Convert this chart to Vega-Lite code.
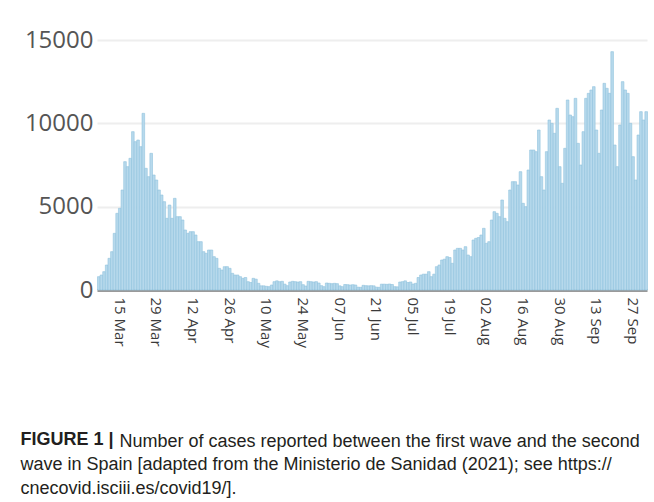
{
  "$schema": "https://vega.github.io/schema/vega-lite/v6.json",
  "autosize": {"type": "none"},
  "padding": {"left": 97, "top": 40, "right": 7, "bottom": 212},
  "width": 550,
  "height": 250,
  "background": "white",
  "config": {
    "view": {"stroke": null},
    "axis": {"labelFont": "Open Sans", "titleFont": "Open Sans"}
  },
  "title": {
    "text": "FIGURE 1 |",
    "subtitle": [
      "wave in Spain [adapted from the Ministerio de Sanidad (2021); see https://",
      "cnecovid.isciii.es/covid19/]."
    ],
    "orient": "bottom",
    "anchor": "start",
    "frame": "bounds",
    "offset": -19,
    "dx": -4,
    "font": "Liberation Sans",
    "fontSize": 18,
    "fontWeight": "bold",
    "color": "#231f20",
    "lineHeight": 24.5,
    "subtitleFont": "Liberation Sans",
    "subtitleFontSize": 18,
    "subtitleFontWeight": "normal",
    "subtitleColor": "#231f20",
    "subtitleLineHeight": 24.5,
    "subtitlePadding": 6.5
  },
  "data": {
    "values": [
      {"date": "2020-03-07", "cases": 800},
      {"date": "2020-03-08", "cases": 900},
      {"date": "2020-03-09", "cases": 1100},
      {"date": "2020-03-10", "cases": 1500},
      {"date": "2020-03-11", "cases": 1900},
      {"date": "2020-03-12", "cases": 2300},
      {"date": "2020-03-13", "cases": 3400},
      {"date": "2020-03-14", "cases": 4600},
      {"date": "2020-03-15", "cases": 4900},
      {"date": "2020-03-16", "cases": 6000},
      {"date": "2020-03-17", "cases": 7700},
      {"date": "2020-03-18", "cases": 7400},
      {"date": "2020-03-19", "cases": 7900},
      {"date": "2020-03-20", "cases": 9500},
      {"date": "2020-03-21", "cases": 8900},
      {"date": "2020-03-22", "cases": 9000},
      {"date": "2020-03-23", "cases": 8600},
      {"date": "2020-03-24", "cases": 10600},
      {"date": "2020-03-25", "cases": 7300},
      {"date": "2020-03-26", "cases": 6800},
      {"date": "2020-03-27", "cases": 8200},
      {"date": "2020-03-28", "cases": 6900},
      {"date": "2020-03-29", "cases": 6600},
      {"date": "2020-03-30", "cases": 6000},
      {"date": "2020-03-31", "cases": 5700},
      {"date": "2020-04-01", "cases": 5300},
      {"date": "2020-04-02", "cases": 4300},
      {"date": "2020-04-03", "cases": 5100},
      {"date": "2020-04-04", "cases": 4300},
      {"date": "2020-04-05", "cases": 5500},
      {"date": "2020-04-06", "cases": 4400},
      {"date": "2020-04-07", "cases": 4400},
      {"date": "2020-04-08", "cases": 4200},
      {"date": "2020-04-09", "cases": 3600},
      {"date": "2020-04-10", "cases": 3400},
      {"date": "2020-04-11", "cases": 3500},
      {"date": "2020-04-12", "cases": 3500},
      {"date": "2020-04-13", "cases": 3300},
      {"date": "2020-04-14", "cases": 2900},
      {"date": "2020-04-15", "cases": 2900},
      {"date": "2020-04-16", "cases": 2300},
      {"date": "2020-04-17", "cases": 2200},
      {"date": "2020-04-18", "cases": 2400},
      {"date": "2020-04-19", "cases": 2400},
      {"date": "2020-04-20", "cases": 2000},
      {"date": "2020-04-21", "cases": 1900},
      {"date": "2020-04-22", "cases": 1300},
      {"date": "2020-04-23", "cases": 1200},
      {"date": "2020-04-24", "cases": 1400},
      {"date": "2020-04-25", "cases": 1400},
      {"date": "2020-04-26", "cases": 1300},
      {"date": "2020-04-27", "cases": 1000},
      {"date": "2020-04-28", "cases": 900},
      {"date": "2020-04-29", "cases": 900},
      {"date": "2020-04-30", "cases": 800},
      {"date": "2020-05-01", "cases": 700},
      {"date": "2020-05-02", "cases": 750},
      {"date": "2020-05-03", "cases": 500},
      {"date": "2020-05-04", "cases": 450},
      {"date": "2020-05-05", "cases": 700},
      {"date": "2020-05-06", "cases": 650},
      {"date": "2020-05-07", "cases": 400},
      {"date": "2020-05-08", "cases": 250},
      {"date": "2020-05-09", "cases": 250},
      {"date": "2020-05-10", "cases": 220},
      {"date": "2020-05-11", "cases": 200},
      {"date": "2020-05-12", "cases": 300},
      {"date": "2020-05-13", "cases": 500},
      {"date": "2020-05-14", "cases": 550},
      {"date": "2020-05-15", "cases": 500},
      {"date": "2020-05-16", "cases": 520},
      {"date": "2020-05-17", "cases": 350},
      {"date": "2020-05-18", "cases": 260},
      {"date": "2020-05-19", "cases": 480},
      {"date": "2020-05-20", "cases": 520},
      {"date": "2020-05-21", "cases": 500},
      {"date": "2020-05-22", "cases": 480},
      {"date": "2020-05-23", "cases": 500},
      {"date": "2020-05-24", "cases": 320},
      {"date": "2020-05-25", "cases": 240},
      {"date": "2020-05-26", "cases": 520},
      {"date": "2020-05-27", "cases": 500},
      {"date": "2020-05-28", "cases": 480},
      {"date": "2020-05-29", "cases": 500},
      {"date": "2020-05-30", "cases": 420},
      {"date": "2020-05-31", "cases": 260},
      {"date": "2020-06-01", "cases": 200},
      {"date": "2020-06-02", "cases": 420},
      {"date": "2020-06-03", "cases": 400},
      {"date": "2020-06-04", "cases": 380},
      {"date": "2020-06-05", "cases": 400},
      {"date": "2020-06-06", "cases": 380},
      {"date": "2020-06-07", "cases": 250},
      {"date": "2020-06-08", "cases": 200},
      {"date": "2020-06-09", "cases": 330},
      {"date": "2020-06-10", "cases": 320},
      {"date": "2020-06-11", "cases": 300},
      {"date": "2020-06-12", "cases": 320},
      {"date": "2020-06-13", "cases": 300},
      {"date": "2020-06-14", "cases": 170},
      {"date": "2020-06-15", "cases": 160},
      {"date": "2020-06-16", "cases": 280},
      {"date": "2020-06-17", "cases": 260},
      {"date": "2020-06-18", "cases": 250},
      {"date": "2020-06-19", "cases": 260},
      {"date": "2020-06-20", "cases": 250},
      {"date": "2020-06-21", "cases": 170},
      {"date": "2020-06-22", "cases": 160},
      {"date": "2020-06-23", "cases": 350},
      {"date": "2020-06-24", "cases": 350},
      {"date": "2020-06-25", "cases": 340},
      {"date": "2020-06-26", "cases": 360},
      {"date": "2020-06-27", "cases": 330},
      {"date": "2020-06-28", "cases": 200},
      {"date": "2020-06-29", "cases": 190},
      {"date": "2020-06-30", "cases": 480},
      {"date": "2020-07-01", "cases": 500},
      {"date": "2020-07-02", "cases": 550},
      {"date": "2020-07-03", "cases": 450},
      {"date": "2020-07-04", "cases": 480},
      {"date": "2020-07-05", "cases": 360},
      {"date": "2020-07-06", "cases": 400},
      {"date": "2020-07-07", "cases": 750},
      {"date": "2020-07-08", "cases": 900},
      {"date": "2020-07-09", "cases": 950},
      {"date": "2020-07-10", "cases": 950},
      {"date": "2020-07-11", "cases": 1100},
      {"date": "2020-07-12", "cases": 800},
      {"date": "2020-07-13", "cases": 950},
      {"date": "2020-07-14", "cases": 1400},
      {"date": "2020-07-15", "cases": 1500},
      {"date": "2020-07-16", "cases": 1800},
      {"date": "2020-07-17", "cases": 1850},
      {"date": "2020-07-18", "cases": 2000},
      {"date": "2020-07-19", "cases": 1950},
      {"date": "2020-07-20", "cases": 1600},
      {"date": "2020-07-21", "cases": 2400},
      {"date": "2020-07-22", "cases": 2500},
      {"date": "2020-07-23", "cases": 2500},
      {"date": "2020-07-24", "cases": 2400},
      {"date": "2020-07-25", "cases": 2600},
      {"date": "2020-07-26", "cases": 2100},
      {"date": "2020-07-27", "cases": 2000},
      {"date": "2020-07-28", "cases": 3000},
      {"date": "2020-07-29", "cases": 3100},
      {"date": "2020-07-30", "cases": 3150},
      {"date": "2020-07-31", "cases": 3300},
      {"date": "2020-08-01", "cases": 3700},
      {"date": "2020-08-02", "cases": 2800},
      {"date": "2020-08-03", "cases": 2900},
      {"date": "2020-08-04", "cases": 4200},
      {"date": "2020-08-05", "cases": 4700},
      {"date": "2020-08-06", "cases": 4600},
      {"date": "2020-08-07", "cases": 4400},
      {"date": "2020-08-08", "cases": 5400},
      {"date": "2020-08-09", "cases": 4300},
      {"date": "2020-08-10", "cases": 4100},
      {"date": "2020-08-11", "cases": 6000},
      {"date": "2020-08-12", "cases": 6500},
      {"date": "2020-08-13", "cases": 6500},
      {"date": "2020-08-14", "cases": 6300},
      {"date": "2020-08-15", "cases": 7100},
      {"date": "2020-08-16", "cases": 5200},
      {"date": "2020-08-17", "cases": 5000},
      {"date": "2020-08-18", "cases": 7200},
      {"date": "2020-08-19", "cases": 8400},
      {"date": "2020-08-20", "cases": 8400},
      {"date": "2020-08-21", "cases": 8300},
      {"date": "2020-08-22", "cases": 9600},
      {"date": "2020-08-23", "cases": 6800},
      {"date": "2020-08-24", "cases": 6000},
      {"date": "2020-08-25", "cases": 8300},
      {"date": "2020-08-26", "cases": 10200},
      {"date": "2020-08-27", "cases": 10000},
      {"date": "2020-08-28", "cases": 9400},
      {"date": "2020-08-29", "cases": 10900},
      {"date": "2020-08-30", "cases": 7400},
      {"date": "2020-08-31", "cases": 6400},
      {"date": "2020-09-01", "cases": 8500},
      {"date": "2020-09-02", "cases": 11400},
      {"date": "2020-09-03", "cases": 10500},
      {"date": "2020-09-04", "cases": 10400},
      {"date": "2020-09-05", "cases": 11500},
      {"date": "2020-09-06", "cases": 8800},
      {"date": "2020-09-07", "cases": 7500},
      {"date": "2020-09-08", "cases": 9500},
      {"date": "2020-09-09", "cases": 11500},
      {"date": "2020-09-10", "cases": 11800},
      {"date": "2020-09-11", "cases": 12000},
      {"date": "2020-09-12", "cases": 12200},
      {"date": "2020-09-13", "cases": 9600},
      {"date": "2020-09-14", "cases": 8200},
      {"date": "2020-09-15", "cases": 10800},
      {"date": "2020-09-16", "cases": 12400},
      {"date": "2020-09-17", "cases": 12100},
      {"date": "2020-09-18", "cases": 11800},
      {"date": "2020-09-19", "cases": 14300},
      {"date": "2020-09-20", "cases": 8700},
      {"date": "2020-09-21", "cases": 7400},
      {"date": "2020-09-22", "cases": 9900},
      {"date": "2020-09-23", "cases": 12500},
      {"date": "2020-09-24", "cases": 12000},
      {"date": "2020-09-25", "cases": 11800},
      {"date": "2020-09-26", "cases": 10000},
      {"date": "2020-09-27", "cases": 8000},
      {"date": "2020-09-28", "cases": 6600},
      {"date": "2020-09-29", "cases": 9300},
      {"date": "2020-09-30", "cases": 10700},
      {"date": "2020-10-01", "cases": 10200},
      {"date": "2020-10-02", "cases": 10700}
    ]
  },
  "mark": {"type": "bar", "fill": "#b7d9ec", "stroke": "#90c2de", "strokeWidth": 0.6, "binSpacing": 0},
  "encoding": {
    "x": {
      "field": "date",
      "type": "temporal",
      "timeUnit": "utcyearmonthdate",
      "scale": {
        "domain": [
          {"year": 2020, "month": 3, "date": 7, "utc": true},
          {"year": 2020, "month": 10, "date": 3, "utc": true}
        ]
      },
      "axis": {
        "title": "Number of cases reported between the first wave and the second",
        "titleFont": "Liberation Sans",
        "titleFontSize": 18,
        "titleFontWeight": "normal",
        "titleColor": "#231f20",
        "titleAlign": "left",
        "titleAnchor": "start",
        "titleBaseline": "alphabetic",
        "titleX": 22,
        "titleY": 156,
        "values": [
          {"year": 2020, "month": 3, "date": 15, "hours": 12, "utc": true},
          {"year": 2020, "month": 3, "date": 29, "hours": 12, "utc": true},
          {"year": 2020, "month": 4, "date": 12, "hours": 12, "utc": true},
          {"year": 2020, "month": 4, "date": 26, "hours": 12, "utc": true},
          {"year": 2020, "month": 5, "date": 10, "hours": 12, "utc": true},
          {"year": 2020, "month": 5, "date": 24, "hours": 12, "utc": true},
          {"year": 2020, "month": 6, "date": 7, "hours": 12, "utc": true},
          {"year": 2020, "month": 6, "date": 21, "hours": 12, "utc": true},
          {"year": 2020, "month": 7, "date": 5, "hours": 12, "utc": true},
          {"year": 2020, "month": 7, "date": 19, "hours": 12, "utc": true},
          {"year": 2020, "month": 8, "date": 2, "hours": 12, "utc": true},
          {"year": 2020, "month": 8, "date": 16, "hours": 12, "utc": true},
          {"year": 2020, "month": 8, "date": 30, "hours": 12, "utc": true},
          {"year": 2020, "month": 9, "date": 13, "hours": 12, "utc": true},
          {"year": 2020, "month": 9, "date": 27, "hours": 12, "utc": true}
        ],
        "labelExpr": "utcFormat(datum.value, '%d %b')",
        "labelAngle": 90,
        "labelFontSize": 15,
        "labelColor": "#3a3a3a",
        "labelPadding": 7,
        "labelOverlap": false,
        "ticks": false,
        "grid": false,
        "domain": true,
        "domainColor": "#9a9a9a",
        "domainWidth": 3
      }
    },
    "y": {
      "field": "cases",
      "type": "quantitative",
      "scale": {"domain": [0, 15000], "nice": false},
      "axis": {
        "title": null,
        "values": [0, 5000, 10000, 15000],
        "format": "d",
        "labelFontSize": 24,
        "labelColor": "#555555",
        "labelPadding": 4,
        "ticks": false,
        "domain": false,
        "grid": true,
        "gridColor": "#eeeeee",
        "gridWidth": 2
      }
    }
  }
}
